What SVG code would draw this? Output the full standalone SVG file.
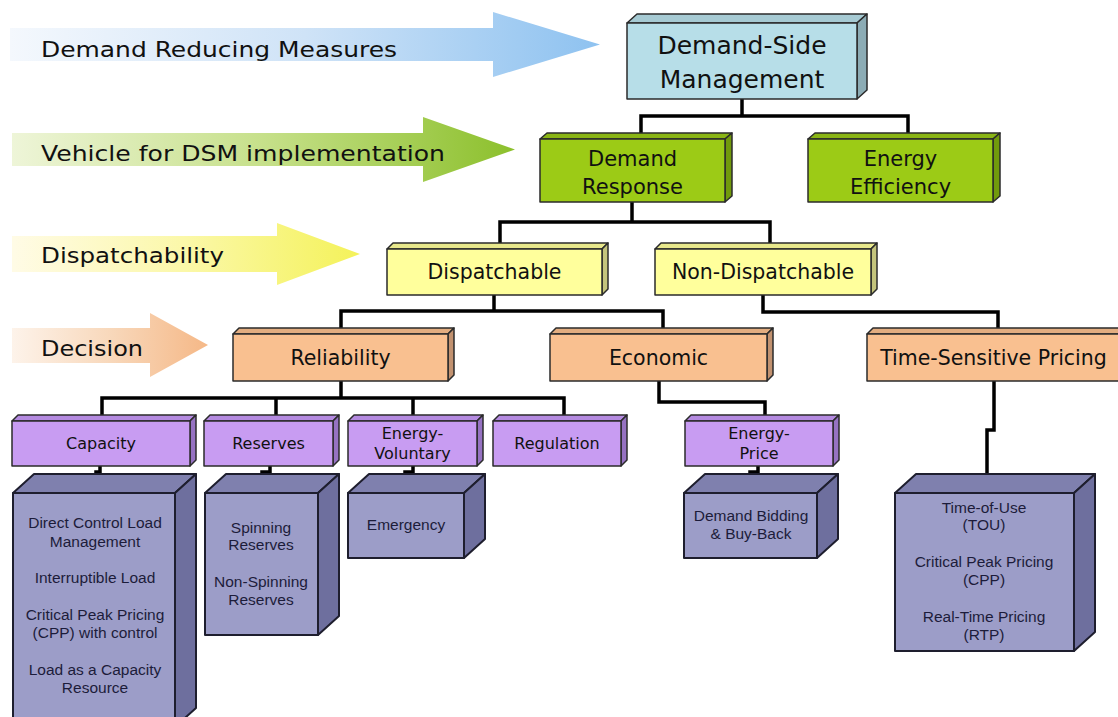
<svg xmlns="http://www.w3.org/2000/svg" width="1118" height="717" viewBox="0 0 1118 717">
<defs>
<linearGradient id="gBlue" x1="0" y1="0" x2="1" y2="0"><stop offset="0" stop-color="#f4f8fd"/><stop offset="0.5" stop-color="#cfe3f7"/><stop offset="1" stop-color="#8ec2f0"/></linearGradient>
<linearGradient id="gGreen" x1="0" y1="0" x2="1" y2="0"><stop offset="0" stop-color="#eef5d8"/><stop offset="0.5" stop-color="#c6e08a"/><stop offset="1" stop-color="#8cc02c"/></linearGradient>
<linearGradient id="gYellow" x1="0" y1="0" x2="1" y2="0"><stop offset="0" stop-color="#fffbe6"/><stop offset="0.5" stop-color="#fbf8a8"/><stop offset="1" stop-color="#f4f25a"/></linearGradient>
<linearGradient id="gOrange" x1="0" y1="0" x2="1" y2="0"><stop offset="0" stop-color="#fdf3ea"/><stop offset="0.5" stop-color="#f8d8bb"/><stop offset="1" stop-color="#f5b887"/></linearGradient>
</defs>
<style>
.lab{font-family:"DejaVu Sans","Liberation Sans",sans-serif;fill:#111;}
.nt{font-family:"DejaVu Sans","Liberation Sans",sans-serif;fill:#111;text-anchor:middle;}
.gt{font-family:"Liberation Sans",Arial,sans-serif;font-size:15.5px;fill:#1c1c3a;text-anchor:middle;}
.bx{stroke:#2b2b2b;stroke-width:1.5;stroke-linejoin:round;}
.gx{stroke:#1e1e2e;stroke-width:2;stroke-linejoin:round;}
.conn{fill:none;stroke:#000;stroke-width:3.5;stroke-linejoin:miter;}
.bF{fill:#b7dee8}.bT{fill:#a6cad3}.bS{fill:#8cacb5}
.grF{fill:#9ccb16}.grT{fill:#8ab515}.grS{fill:#719a0c}
.yF{fill:#ffff9c}.yT{fill:#e8e88c}.yS{fill:#c4c47c}
.oF{fill:#f9c090}.oT{fill:#e3ad80}.oS{fill:#c29270}
.pF{fill:#c89cf2}.pT{fill:#b48ae0}.pS{fill:#9672c2}
.kF{fill:#9c9dc8}.kT{fill:#7f80ae}.kS{fill:#6e6f9e}
</style>

<g id="arrows">
<polygon points="10,28 493,28 493,12 600,44.5 493,77 493,61 10,61" fill="url(#gBlue)"/>
<text class="lab" x="41" y="57" font-size="22" textLength="356" lengthAdjust="spacingAndGlyphs">Demand Reducing Measures</text>
<polygon points="12,133 423,133 423,117 515,149.5 423,182 423,166 12,166" fill="url(#gGreen)"/>
<text class="lab" x="41" y="161" font-size="22" textLength="404" lengthAdjust="spacingAndGlyphs">Vehicle for DSM implementation</text>
<polygon points="12,236 277,236 277,223 360,254 277,285 277,272 12,272" fill="url(#gYellow)"/>
<text class="lab" x="41" y="263" font-size="22" textLength="183" lengthAdjust="spacingAndGlyphs">Dispatchability</text>
<polygon points="12,328 150,328 150,313 208,345 150,377 150,363 12,363" fill="url(#gOrange)"/>
<text class="lab" x="41" y="356" font-size="22" textLength="102" lengthAdjust="spacingAndGlyphs">Decision</text>
</g>

<g id="connectors">
<polyline class="conn" points="742,99 742,116"/>
<polyline class="conn" points="641,133 641,116 908,116 908,133"/>
<polyline class="conn" points="632,202 632,222"/>
<polyline class="conn" points="500,243 500,222 770,222 770,243"/>
<polyline class="conn" points="494,295 494,311"/>
<polyline class="conn" points="341,328 341,311 663,311 663,328"/>
<polyline class="conn" points="763,295 763,312 998,312 998,328"/>
<polyline class="conn" points="341,381 341,398"/>
<polyline class="conn" points="102,415 102,398 564,398 564,415"/>
<polyline class="conn" points="276,398 276,415"/>
<polyline class="conn" points="413,398 413,415"/>
<polyline class="conn" points="659,381 659,402 765,402 765,415"/>
<polyline class="conn" points="100,466 100,472 96,472 96,493"/>
<polyline class="conn" points="270,466 270,472 262,472 262,493"/>
<polyline class="conn" points="413,466 413,472 405,472 405,493"/>
<polyline class="conn" points="758,466 758,472 750,472 750,493"/>
<polyline class="conn" points="994,381 994,430 987,430 987,493"/>
</g>

<g id="dsm">
<polygon class="bx bT" points="627,23 637,14 867,14 857,23"/>
<polygon class="bx bS" points="857,23 867,14 867,90 857,99"/>
<rect class="bx bF" x="627" y="23" width="230" height="76"/>
<text class="nt" x="742" y="54" font-size="25">Demand-Side</text>
<text class="nt" x="742" y="88" font-size="25">Management</text>
</g>

<g id="demand-response">
<polygon class="bx grT" points="540,139 547,133 732,133 725,139"/>
<polygon class="bx grS" points="725,139 732,133 732,196 725,202"/>
<rect class="bx grF" x="540" y="139" width="185" height="63"/>
<text class="nt" x="632.5" y="166" font-size="21">Demand</text>
<text class="nt" x="632.5" y="194" font-size="21">Response</text>
</g>

<g id="energy-efficiency">
<polygon class="bx grT" points="808,139 815,133 1000,133 993,139"/>
<polygon class="bx grS" points="993,139 1000,133 1000,196 993,202"/>
<rect class="bx grF" x="808" y="139" width="185" height="63"/>
<text class="nt" x="900.5" y="166" font-size="21">Energy</text>
<text class="nt" x="900.5" y="194" font-size="21">Efficiency</text>
</g>

<g id="dispatchable">
<polygon class="bx yT" points="387,249 393,243 608,243 602,249"/>
<polygon class="bx yS" points="602,249 608,243 608,289 602,295"/>
<rect class="bx yF" x="387" y="249" width="215" height="46"/>
<text class="nt" x="494.5" y="279" font-size="20.5">Dispatchable</text>
</g>

<g id="non-dispatchable">
<polygon class="bx yT" points="655,249 661,243 877,243 871,249"/>
<polygon class="bx yS" points="871,249 877,243 877,289 871,295"/>
<rect class="bx yF" x="655" y="249" width="216" height="46"/>
<text class="nt" x="763" y="279" font-size="20.5">Non-Dispatchable</text>
</g>

<g id="reliability">
<polygon class="bx oT" points="233,334 239,328 454,328 448,334"/>
<polygon class="bx oS" points="448,334 454,328 454,375 448,381"/>
<rect class="bx oF" x="233" y="334" width="215" height="47"/>
<text class="nt" x="340.5" y="365" font-size="20.5">Reliability</text>
</g>

<g id="economic">
<polygon class="bx oT" points="550,334 556,328 773,328 767,334"/>
<polygon class="bx oS" points="767,334 773,328 773,375 767,381"/>
<rect class="bx oF" x="550" y="334" width="217" height="47"/>
<text class="nt" x="658.5" y="365" font-size="20.5">Economic</text>
</g>

<g id="time-sensitive-pricing">
<polygon class="bx oT" points="867,334 873,328 1130,328 1124,334"/>
<rect class="bx oF" x="867" y="334" width="257" height="47"/>
<text class="nt" x="993.5" y="365" font-size="20.5">Time-Sensitive Pricing</text>
</g>

<g id="capacity">
<polygon class="bx pT" points="12,421 18,415 196,415 190,421"/>
<polygon class="bx pS" points="190,421 196,415 196,460 190,466"/>
<rect class="bx pF" x="12" y="421" width="178" height="45"/>
<text class="nt" x="101" y="449" font-size="16">Capacity</text>
</g>

<g id="reserves">
<polygon class="bx pT" points="204,421 210,415 339,415 333,421"/>
<polygon class="bx pS" points="333,421 339,415 339,460 333,466"/>
<rect class="bx pF" x="204" y="421" width="129" height="45"/>
<text class="nt" x="268.5" y="449" font-size="16">Reserves</text>
</g>

<g id="energy-voluntary">
<polygon class="bx pT" points="348,421 354,415 483,415 477,421"/>
<polygon class="bx pS" points="477,421 483,415 483,460 477,466"/>
<rect class="bx pF" x="348" y="421" width="129" height="45"/>
<text class="nt" x="412.5" y="438.5" font-size="16">Energy-</text>
<text class="nt" x="412.5" y="459" font-size="16">Voluntary</text>
</g>

<g id="regulation">
<polygon class="bx pT" points="493,421 499,415 627,415 621,421"/>
<polygon class="bx pS" points="621,421 627,415 627,460 621,466"/>
<rect class="bx pF" x="493" y="421" width="128" height="45"/>
<text class="nt" x="557" y="449" font-size="16">Regulation</text>
</g>

<g id="energy-price">
<polygon class="bx pT" points="685,421 691,415 839,415 833,421"/>
<polygon class="bx pS" points="833,421 839,415 839,460 833,466"/>
<rect class="bx pF" x="685" y="421" width="148" height="45"/>
<text class="nt" x="759" y="438.5" font-size="16">Energy-</text>
<text class="nt" x="759" y="459" font-size="16">Price</text>
</g>

<g id="capacity-programs">
<polygon class="gx kT" points="13,493 34,474 196,474 175,493"/>
<polygon class="gx kS" points="175,493 196,474 196,708 175,727"/>
<rect class="gx kF" x="13" y="493" width="162" height="234"/>
<text class="gt" x="95" y="528">Direct Control Load</text>
<text class="gt" x="95" y="547">Management</text>
<text class="gt" x="95" y="583">Interruptible Load</text>
<text class="gt" x="95" y="620">Critical Peak Pricing</text>
<text class="gt" x="95" y="638">(CPP) with control</text>
<text class="gt" x="95" y="675">Load as a Capacity</text>
<text class="gt" x="95" y="693">Resource</text>
</g>

<g id="reserves-programs">
<polygon class="gx kT" points="205,493 226,474 339,474 318,493"/>
<polygon class="gx kS" points="318,493 339,474 339,616 318,635"/>
<rect class="gx kF" x="205" y="493" width="113" height="142"/>
<text class="gt" x="261" y="533">Spinning</text>
<text class="gt" x="261" y="550">Reserves</text>
<text class="gt" x="261" y="587">Non-Spinning</text>
<text class="gt" x="261" y="605">Reserves</text>
</g>

<g id="emergency">
<polygon class="gx kT" points="348,493 369,474 485,474 464,493"/>
<polygon class="gx kS" points="464,493 485,474 485,539 464,558"/>
<rect class="gx kF" x="348" y="493" width="116" height="65"/>
<text class="gt" x="406" y="530">Emergency</text>
</g>

<g id="demand-bidding">
<polygon class="gx kT" points="684,493 705,474 838,474 817,493"/>
<polygon class="gx kS" points="817,493 838,474 838,539 817,558"/>
<rect class="gx kF" x="684" y="493" width="133" height="65"/>
<text class="gt" x="751" y="521">Demand Bidding</text>
<text class="gt" x="751" y="539">&amp; Buy-Back</text>
</g>

<g id="tsp-programs">
<polygon class="gx kT" points="895,493 916,474 1095,474 1074,493"/>
<polygon class="gx kS" points="1074,493 1095,474 1095,632 1074,651"/>
<rect class="gx kF" x="895" y="493" width="179" height="158"/>
<text class="gt" x="984" y="513">Time-of-Use</text>
<text class="gt" x="984" y="530">(TOU)</text>
<text class="gt" x="984" y="567">Critical Peak Pricing</text>
<text class="gt" x="984" y="585">(CPP)</text>
<text class="gt" x="984" y="622">Real-Time Pricing</text>
<text class="gt" x="984" y="640">(RTP)</text>
</g>
</svg>
